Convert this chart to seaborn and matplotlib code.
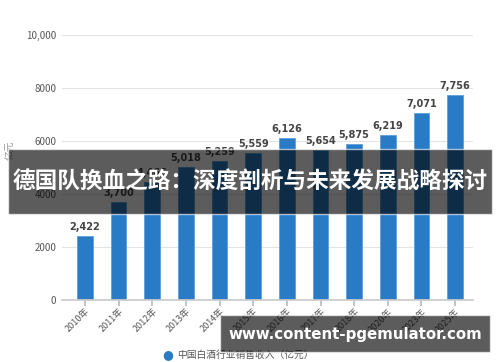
import matplotlib
matplotlib.use("Agg")
import matplotlib.pyplot as plt
import seaborn as sns
import pandas as pd
from matplotlib.patches import Rectangle

years = ["2010年", "2011年", "2012年", "2013年", "2014年", "2015年",
         "2016年", "2017年", "2018年", "2020年", "2023年", "2025年"]
revenue = [2422, 3700, 4466, 5018, 5259, 5559, 6126, 5654, 5875, 6219, 7071, 7756]
yticks = [0, 2000, 4000, 6000, 8000, 10000]
ytick_labels = ["0", "2000", "4000", "6000", "8000", "10,000"]
legend_label = "中国白酒行业销售收入（亿元）"
ylabel = "亿元"
title = "德国队换血之路：深度剖析与未来发展战略探讨"
url = "www.content-pgemulator.com"

sns.set_theme(style="white")
plt.rcParams["font.family"] = ["Noto Sans CJK SC", "DejaVu Sans"]

df = pd.DataFrame({"year": years, "revenue": revenue})
fig = plt.figure(figsize=(5, 3.62), dpi=100)
ax = fig.add_axes([0.124, 0.171, 0.822, 0.732])

bar_color = "#2a7bc6"
sns.barplot(data=df, x="year", y="revenue", color=bar_color, width=0.47,
            saturation=1, ax=ax, edgecolor="#5aa0dc", linewidth=0.6)

ax.set_ylim(0, 10000)
ax.set_xlim(-0.68, len(years) - 1 + 0.53)
ax.set_yticks(yticks)
ax.set_yticklabels(ytick_labels, fontsize=7, color="#555555")
ax.yaxis.grid(True, color="#e3e3e3", linewidth=0.8)
ax.set_axisbelow(True)
for s in ["top", "right", "left"]:
    ax.spines[s].set_visible(False)
ax.spines["bottom"].set_color("#cccccc")
ax.tick_params(axis="y", length=0, pad=4)
ax.tick_params(axis="x", length=4, color="#bbbbbb", direction="out", bottom=True, pad=1)
plt.setp(ax.get_xticklabels(), rotation=45, ha="right", rotation_mode="anchor",
         fontsize=6.5, color="#555555")
ax.set_xlabel("")
ax.set_ylabel(ylabel, fontsize=7, color="#999999")
ax.yaxis.set_label_coords(-0.114, 0.566)

for i, v in enumerate(revenue):
    ax.text(i, v + 150, f"{v:,}", ha="center", va="bottom", fontsize=7,
            fontweight="bold", color="#444444", family=["DejaVu Sans"])

# legend
fig.text(0.336, 0.020, "●", fontsize=9, color=bar_color, ha="center", va="center",
         family=["DejaVu Sans"])
fig.text(0.355, 0.020, legend_label, fontsize=7, color="#555555", ha="left", va="center")

# overlay banners
fig.patches.append(Rectangle((0.016, 1 - 214 / 362), 0.968, 65 / 362,
                             transform=fig.transFigure, facecolor="black", alpha=0.64,
                             zorder=10))
fig.text(0.5, 1 - 181 / 362, title, fontsize=16.3, fontweight="bold", color="white",
         ha="center", va="center", zorder=11)
fig.patches.append(Rectangle((0.44, 1 - 352 / 362), 0.54, 37 / 362,
                             transform=fig.transFigure, facecolor="black", alpha=0.64,
                             zorder=10))
fig.text(0.71, 1 - 334 / 362, url, fontsize=10.8, fontweight="bold", color="white",
         ha="center", va="center", zorder=11, family=["DejaVu Sans"])

fig.savefig("out.png", dpi=100)
